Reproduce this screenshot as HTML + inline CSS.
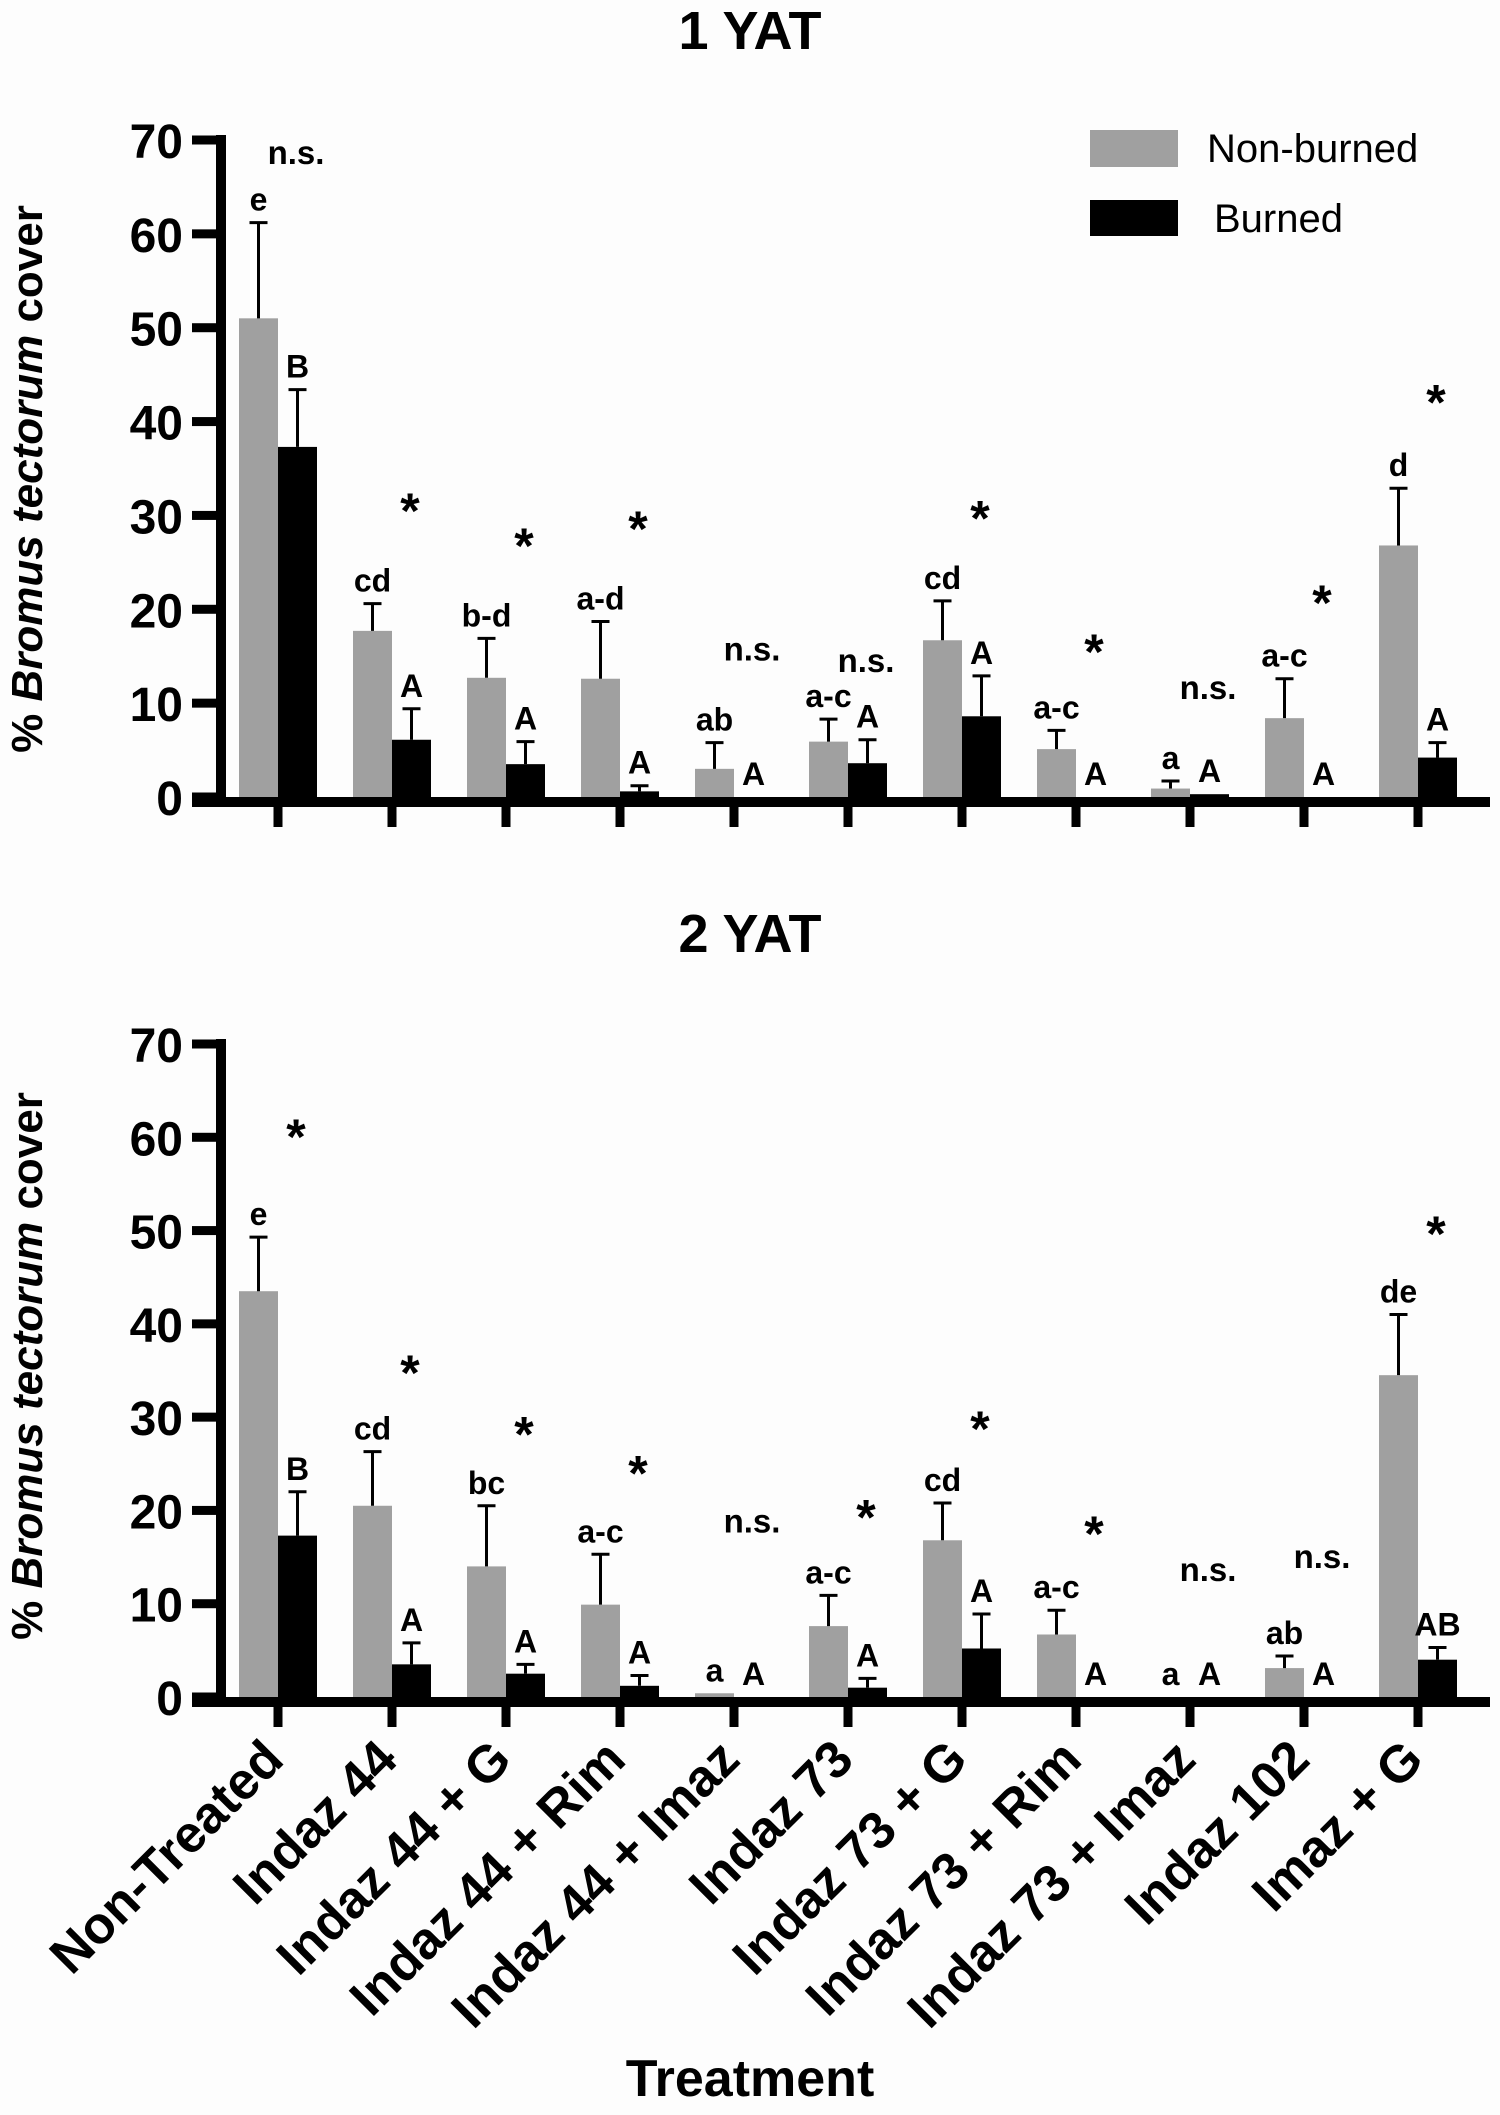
<!DOCTYPE html>
<html><head><meta charset="utf-8"><style>
html,body{margin:0;padding:0;background:#fdfdfd;}
svg{display:block;font-family:"Liberation Sans",Arial,sans-serif;}
</style></head><body>
<svg id="chart" width="1500" height="2115" viewBox="0 0 1500 2115" xmlns="http://www.w3.org/2000/svg">
<rect width="1500" height="2115" fill="#fdfdfd"/>
<text x="750" y="49" text-anchor="middle" font-size="54" font-weight="bold">1 YAT</text>
<text x="750" y="952" text-anchor="middle" font-size="54" font-weight="bold">2 YAT</text>
<text transform="translate(42,479) rotate(-90)" text-anchor="middle" font-size="44" font-weight="bold">% <tspan font-style="italic">Bromus tectorum</tspan> cover</text>
<text transform="translate(42,1366) rotate(-90)" text-anchor="middle" font-size="44" font-weight="bold">% <tspan font-style="italic">Bromus tectorum</tspan> cover</text>
<rect x="1090" y="130" width="88" height="37" fill="#a0a0a0"/>
<text x="1207" y="162" font-size="40">Non-burned</text>
<rect x="1090" y="200" width="88" height="36" fill="#000"/>
<text x="1214" y="232" font-size="40">Burned</text>
<text x="750" y="2096" text-anchor="middle" font-size="52" font-weight="bold">Treatment</text>
</svg>
<script>
const categories = ["Non-Treated","Indaz 44","Indaz 44 + G","Indaz 44 + Rim","Indaz 44 + Imaz","Indaz 73","Indaz 73 + G","Indaz 73 + Rim","Indaz 73 + Imaz","Indaz 102","Imaz + G"];
const yTicks = [0,10,20,30,40,50,60,70];
// 1 YAT
const top_nonburned = [51.0,17.7,12.7,12.6,3.0,5.9,16.7,5.1,0.9,8.4,26.8];
const top_nonburned_err = [61.2,20.6,16.9,18.7,5.8,8.3,20.9,7.1,1.7,12.6,32.9];
const top_burned = [37.3,6.1,3.5,0.6,0,3.6,8.6,0,0.3,0,4.2];
const top_burned_err = [43.4,9.4,5.9,1.2,0,6.1,12.9,0,0.3,0,5.8];
const top_letters_nb = ["e","cd","b-d","a-d","ab","a-c","cd","a-c","a","a-c","d"];
const top_letters_b = ["B","A","A","A","A","A","A","A","A","A","A"];
const top_sig = ["n.s.","*","*","*","n.s.","n.s.","*","*","n.s.","*","*"];
const top_sig_y = [68.6,31.2,27.5,29.3,15.7,14.5,30.4,16.2,11.6,21.4,42.8];
// 2 YAT
const bot_nonburned = [43.5,20.5,14.0,9.9,0.4,7.6,16.8,6.7,0,3.1,34.5];
const bot_nonburned_err = [49.3,26.3,20.5,15.3,0.4,10.9,20.8,9.3,0,4.4,41.0];
const bot_burned = [17.3,3.5,2.5,1.2,0,1.0,5.2,0,0,0,4.0];
const bot_burned_err = [22.0,5.8,3.5,2.3,0,2.0,8.9,0,0,0,5.3];
const bot_letters_nb = ["e","cd","bc","a-c","a","a-c","cd","a-c","a","ab","de"];
const bot_letters_b = ["B","A","A","A","A","A","A","A","A","A","AB"];
const bot_sig = ["*","*","*","*","n.s.","*","*","*","n.s.","n.s.","*"];
const bot_sig_y = [60.8,35.5,28.9,24.7,18.8,20.0,29.5,18.2,13.6,15.0,50.4];

const NS = "http://www.w3.org/2000/svg";
const svg = document.getElementById("chart");
function mk(tag, attrs, parent){
  const e = document.createElementNS(NS, tag);
  for (const k in attrs) e.setAttribute(k, attrs[k]);
  (parent||svg).appendChild(e);
  return e;
}
const xCenter = i => 278 + i*114;
const BW = 39;

function panel(id, zero, top70, nb, nbe, b, be, lnb, lb, sig, sigy, withLabels){
  const g = mk("g", {});
  
  
  const k = (zero - top70)/70;
  const y = v => zero - v*k;
  categories.forEach((c,i)=>{
    const cx = xCenter(i);
    const r1 = mk("rect", {x: cx-BW, y: y(nb[i]), width: BW, height: zero - y(nb[i]), fill:"#a0a0a0"}, g);
    
    
    const r2 = mk("rect", {x: cx, y: y(b[i]), width: BW, height: zero - y(b[i]), fill:"#000"}, g);
    
    
    [[cx-BW/2, nb[i], nbe[i], 'nonburned'],[cx+BW/2, b[i], be[i], 'burned']].forEach(([ex,v,e,nm])=>{
      if (e > v + 0.05){
        const p = mk("path", {d:`M${ex},${y(v)} V${y(e)} M${ex-9},${y(e)} H${ex+9}`, stroke:"#000", "stroke-width":3, fill:"none"}, g);
        
        
      }
    });
    const t1 = mk("text", {x: cx-BW/2, y: y(Math.max(nbe[i],nb[i])) - 12, "text-anchor":"middle", "font-size":32, "font-weight":"bold"}, g);
    t1.textContent = lnb[i];
    
    
    const t2 = mk("text", {x: cx+BW/2, y: y(Math.max(be[i],b[i])) - 12, "text-anchor":"middle", "font-size":32, "font-weight":"bold"}, g);
    t2.textContent = lb[i];
    
    
    const isStar = sig[i] === "*";
    const t3 = mk("text", {x: cx+18, y: y(sigy[i]) + (isStar ? 24 : 11), "text-anchor":"middle", "font-size": isStar ? 50 : 33, "font-weight":"bold"}, g);
    t3.textContent = sig[i];
    
    
    const tk = mk("rect", {x: cx-4.5, y: zero, width: 9, height: 30, fill:"#000"}, g);
    
    
    if (withLabels){
      const lab = mk("text", {transform:`translate(${cx+8},1762) rotate(-45)`, "text-anchor":"end", "font-size":52, "font-weight":"bold"}, g);
      lab.textContent = c;
      
      
    }
  });
  const ya = mk("rect", {x: 216, y: top70 - 5, width: 10, height: zero - top70 + 10, fill:"#000"}, g);
  
  
  const xa = mk("rect", {x: 192, y: zero, width: 1298, height: 10, fill:"#000"}, g);
  
  
  yTicks.forEach(t=>{
    const tr = mk("rect", {x: 192, y: y(t) - 4.5, width: 28, height: 9, fill:"#000"}, g);
    
    
    const tl = mk("text", {x: 183, y: y(t) + 18, "text-anchor":"end", "font-size":48, "font-weight":"bold"}, g);
    tl.textContent = t;
    
    
  });
}
panel("top", 797, 140, top_nonburned, top_nonburned_err, top_burned, top_burned_err, top_letters_nb, top_letters_b, top_sig, top_sig_y, false);
panel("bottom", 1697, 1044, bot_nonburned, bot_nonburned_err, bot_burned, bot_burned_err, bot_letters_nb, bot_letters_b, bot_sig, bot_sig_y, true);
</script>
</body></html>
